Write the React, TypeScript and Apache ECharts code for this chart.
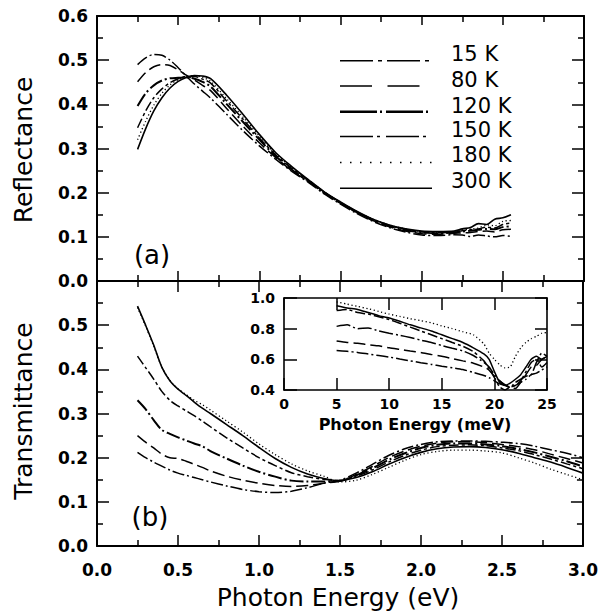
import React, { useEffect, useRef } from 'react';
import * as echarts from 'echarts';

const FONT = "'DejaVu Sans', sans-serif";

const TEMPS = ['15 K', '80 K', '120 K', '150 K', '180 K', '300 K'];

// Panel (a): reflectance vs photon energy (eV)
const E_R = [0.25, 0.3, 0.35, 0.4, 0.45, 0.5, 0.55, 0.6, 0.65, 0.7, 0.8, 0.9, 1.0, 1.1, 1.2, 1.3, 1.4, 1.5, 1.6, 1.7, 1.8, 1.9, 2.0, 2.1, 2.2, 2.25, 2.3, 2.35, 2.4, 2.45, 2.5, 2.55];
const R_15K = [0.490, 0.505, 0.513, 0.511, 0.500, 0.483, 0.464, 0.446, 0.430, 0.414, 0.377, 0.340, 0.306, 0.276, 0.248, 0.224, 0.197, 0.174, 0.153, 0.135, 0.121, 0.111, 0.104, 0.103, 0.105, 0.104, 0.101, 0.104, 0.102, 0.100, 0.103, 0.101];
const R_80K = [0.451, 0.472, 0.485, 0.490, 0.488, 0.478, 0.466, 0.455, 0.443, 0.431, 0.390, 0.350, 0.313, 0.280, 0.250, 0.226, 0.199, 0.176, 0.155, 0.137, 0.123, 0.113, 0.107, 0.106, 0.108, 0.109, 0.110, 0.112, 0.113, 0.111, 0.116, 0.117];
const R_120K = [0.396, 0.425, 0.443, 0.454, 0.459, 0.460, 0.461, 0.458, 0.451, 0.440, 0.400, 0.360, 0.320, 0.283, 0.252, 0.227, 0.200, 0.177, 0.156, 0.138, 0.125, 0.115, 0.110, 0.108, 0.110, 0.112, 0.114, 0.116, 0.118, 0.117, 0.122, 0.124];
const R_150K = [0.347, 0.385, 0.415, 0.435, 0.449, 0.458, 0.463, 0.463, 0.457, 0.448, 0.407, 0.366, 0.324, 0.286, 0.255, 0.229, 0.201, 0.178, 0.157, 0.139, 0.126, 0.117, 0.111, 0.109, 0.111, 0.114, 0.116, 0.118, 0.122, 0.120, 0.128, 0.131];
const R_180K = [0.320, 0.362, 0.398, 0.425, 0.444, 0.456, 0.463, 0.465, 0.461, 0.452, 0.412, 0.371, 0.328, 0.288, 0.257, 0.229, 0.202, 0.178, 0.157, 0.140, 0.127, 0.118, 0.112, 0.110, 0.112, 0.116, 0.118, 0.120, 0.127, 0.125, 0.135, 0.137];
const R_300K = [0.298, 0.345, 0.385, 0.415, 0.437, 0.452, 0.461, 0.465, 0.464, 0.458, 0.420, 0.377, 0.332, 0.291, 0.259, 0.230, 0.202, 0.179, 0.158, 0.140, 0.127, 0.118, 0.113, 0.112, 0.113, 0.118, 0.121, 0.130, 0.128, 0.140, 0.143, 0.150];

// Panel (b): transmittance vs photon energy (eV)
const E_T = [0.25, 0.3, 0.35, 0.4, 0.45, 0.5, 0.55, 0.6, 0.65, 0.7, 0.8, 0.9, 1.0, 1.1, 1.2, 1.3, 1.4, 1.5, 1.6, 1.7, 1.8, 1.9, 2.0, 2.1, 2.2, 2.3, 2.4, 2.5, 2.6, 2.7, 2.8, 2.9, 3.0];
const T_15K = [0.212, 0.200, 0.190, 0.181, 0.172, 0.165, 0.160, 0.155, 0.150, 0.145, 0.136, 0.128, 0.123, 0.121, 0.124, 0.132, 0.142, 0.149, 0.165, 0.185, 0.205, 0.220, 0.230, 0.236, 0.238, 0.238, 0.237, 0.235, 0.232, 0.226, 0.218, 0.210, 0.200];
const T_80K = [0.250, 0.235, 0.222, 0.208, 0.200, 0.198, 0.192, 0.185, 0.178, 0.170, 0.158, 0.149, 0.142, 0.137, 0.135, 0.137, 0.142, 0.147, 0.162, 0.180, 0.200, 0.215, 0.226, 0.233, 0.236, 0.236, 0.234, 0.230, 0.225, 0.218, 0.208, 0.198, 0.188];
const T_120K = [0.330, 0.310, 0.285, 0.263, 0.254, 0.246, 0.239, 0.232, 0.226, 0.215, 0.198, 0.182, 0.168, 0.157, 0.148, 0.146, 0.146, 0.147, 0.160, 0.176, 0.195, 0.210, 0.222, 0.229, 0.232, 0.232, 0.230, 0.226, 0.220, 0.212, 0.202, 0.192, 0.180];
const T_150K = [0.430, 0.404, 0.378, 0.350, 0.330, 0.317, 0.306, 0.295, 0.283, 0.270, 0.245, 0.222, 0.200, 0.182, 0.166, 0.157, 0.151, 0.148, 0.158, 0.172, 0.190, 0.205, 0.217, 0.225, 0.228, 0.229, 0.227, 0.222, 0.216, 0.207, 0.197, 0.186, 0.175];
const T_180K = [0.540, 0.498, 0.453, 0.405, 0.375, 0.356, 0.343, 0.330, 0.320, 0.308, 0.283, 0.258, 0.231, 0.207, 0.186, 0.170, 0.158, 0.145, 0.149, 0.162, 0.178, 0.194, 0.207, 0.214, 0.217, 0.217, 0.215, 0.211, 0.200, 0.188, 0.174, 0.162, 0.150];
const T_300K = [0.543, 0.500, 0.455, 0.405, 0.374, 0.355, 0.341, 0.326, 0.312, 0.300, 0.275, 0.250, 0.223, 0.198, 0.178, 0.163, 0.153, 0.148, 0.155, 0.168, 0.185, 0.200, 0.212, 0.220, 0.224, 0.225, 0.223, 0.218, 0.210, 0.200, 0.190, 0.178, 0.165];

// Inset: transmittance vs photon energy (meV)
const E_M = [5, 6, 7, 8, 9, 10, 11, 12, 13, 14, 15, 16, 17, 18, 19, 19.5, 20, 20.5, 21, 21.5, 22, 22.5, 23, 23.5, 24, 24.5, 25];
const I_15K = [0.658, 0.652, 0.645, 0.635, 0.625, 0.615, 0.602, 0.590, 0.578, 0.567, 0.555, 0.545, 0.533, 0.515, 0.495, 0.480, 0.460, 0.440, 0.430, 0.420, 0.430, 0.450, 0.470, 0.500, 0.510, 0.530, 0.550];
const I_80K = [0.720, 0.710, 0.705, 0.695, 0.688, 0.675, 0.665, 0.655, 0.645, 0.632, 0.620, 0.605, 0.590, 0.575, 0.550, 0.530, 0.490, 0.460, 0.435, 0.415, 0.410, 0.450, 0.500, 0.550, 0.560, 0.600, 0.620];
const I_120K = [0.815, 0.825, 0.800, 0.805, 0.785, 0.770, 0.757, 0.742, 0.725, 0.710, 0.690, 0.672, 0.655, 0.625, 0.580, 0.550, 0.500, 0.460, 0.430, 0.420, 0.450, 0.470, 0.490, 0.500, 0.580, 0.640, 0.620];
const I_150K = [0.918, 0.925, 0.905, 0.895, 0.878, 0.860, 0.835, 0.810, 0.785, 0.760, 0.735, 0.710, 0.685, 0.650, 0.590, 0.540, 0.480, 0.420, 0.400, 0.420, 0.430, 0.460, 0.520, 0.580, 0.600, 0.550, 0.580];
const I_180K = [0.975, 0.960, 0.945, 0.930, 0.912, 0.895, 0.880, 0.865, 0.852, 0.838, 0.818, 0.800, 0.780, 0.760, 0.700, 0.640, 0.600, 0.565, 0.545, 0.550, 0.620, 0.675, 0.710, 0.735, 0.750, 0.770, 0.775];
const I_300K = [0.950, 0.935, 0.925, 0.905, 0.885, 0.870, 0.848, 0.825, 0.805, 0.785, 0.760, 0.735, 0.710, 0.675, 0.635, 0.600, 0.520, 0.450, 0.430, 0.445, 0.470, 0.500, 0.550, 0.600, 0.620, 0.600, 0.620];

const R_ALL = [R_15K, R_80K, R_120K, R_150K, R_180K, R_300K];
const T_ALL = [T_15K, T_80K, T_120K, T_150K, T_180K, T_300K];
const I_ALL = [I_15K, I_80K, I_120K, I_150K, I_180K, I_300K];

// line styles per temperature
const STYLES: { dash: any; w: number; ldash: any; lw: number }[] = [
  { dash: [12, 3, 2, 3], w: 1.5, ldash: [33, 5, 4, 5], lw: 1.6 },
  { dash: [12, 5], w: 1.5, ldash: [32, 15.5], lw: 1.6 },
  { dash: [14, 3, 2, 3], w: 2, ldash: [37, 3, 2, 4], lw: 2.6 },
  { dash: [10, 3, 3, 3], w: 1.5, ldash: [33, 4, 3, 6], lw: 1.6 },
  { dash: [1.2, 2.6], w: 1.3, ldash: [1.5, 8.5], lw: 1.5 },
  { dash: 'solid', w: 1.6, ldash: null, lw: 1.6 },
];

const BLACK = '#000';

function axisCommon(tickLen: number, minorLen: number, lineW = 2) {
  return {
    axisLine: { show: true, onZero: false, lineStyle: { color: BLACK, width: lineW } },
    axisTick: { show: true, inside: true, length: tickLen, lineStyle: { color: BLACK, width: 1.5 } },
    minorTick: minorLen > 0
      ? { show: true, splitNumber: 2, length: minorLen, lineStyle: { color: BLACK, width: 1.5 } }
      : { show: false },
    splitLine: { show: false },
    minorSplitLine: { show: false },
  };
}

const tickFont = { fontFamily: FONT, fontWeight: 'bold' as const, color: BLACK };

function buildOption() {
  const xAxis: any[] = [];
  const yAxis: any[] = [];

  // Grid 0 (Reflectance)
  xAxis.push({ type: 'value', gridIndex: 0, position: 'bottom', min: 0, max: 3, interval: 0.5, ...axisCommon(10, 6), axisLabel: { show: false } });
  xAxis.push({ type: 'value', gridIndex: 0, position: 'top', min: 0, max: 3, interval: 0.5, ...axisCommon(9, 6), axisLabel: { show: false } });
  yAxis.push({
    type: 'value', gridIndex: 0, position: 'left', min: 0, max: 0.6, interval: 0.1, ...axisCommon(12, 6),
    axisLabel: { show: true, margin: 9, fontSize: 17, ...tickFont, formatter: (v: number) => v.toFixed(1) },
  });
  yAxis.push({ type: 'value', gridIndex: 0, position: 'right', min: 0, max: 0.6, interval: 0.1, ...axisCommon(12, 6), axisLabel: { show: false } });

  // Grid 1 (Transmittance)
  xAxis.push({
    type: 'value', gridIndex: 1, position: 'bottom', min: 0, max: 3, interval: 0.5, ...axisCommon(11, 6),
    axisLabel: { show: true, margin: 15, fontSize: 17, ...tickFont, formatter: (v: number) => v.toFixed(1) },
  });
  xAxis.push({ type: 'value', gridIndex: 1, position: 'top', min: 0, max: 3, interval: 0.5, ...axisCommon(11, 6), axisLabel: { show: false } });
  yAxis.push({
    type: 'value', gridIndex: 1, position: 'left', min: 0, max: 0.6, interval: 0.1, ...axisCommon(12, 6),
    axisLabel: { show: true, margin: 9, fontSize: 17, ...tickFont, formatter: (v: number) => (v > 0.55 ? '' : v.toFixed(1)) },
  });
  yAxis.push({ type: 'value', gridIndex: 1, position: 'right', min: 0, max: 0.6, interval: 0.1, ...axisCommon(12, 6), axisLabel: { show: false } });

  // Grid 2 (Inset)
  xAxis.push({
    type: 'value', gridIndex: 2, position: 'bottom', min: 0, max: 25, interval: 5, ...axisCommon(12, 0, 1.6),
    axisLabel: { show: true, margin: 7, fontSize: 14, lineHeight: 14, ...tickFont, formatter: (v: number) => String(v) },
  });
  xAxis.push({ type: 'value', gridIndex: 2, position: 'top', min: 0, max: 25, interval: 5, ...axisCommon(12, 0, 1.6), axisLabel: { show: false } });
  yAxis.push({
    type: 'value', gridIndex: 2, position: 'left', min: 0.4, max: 1.0, interval: 0.2, ...axisCommon(13, 0, 1.6),
    axisLabel: { show: true, margin: 9, fontSize: 14, ...tickFont, formatter: (v: number) => v.toFixed(1) },
  });
  yAxis.push({ type: 'value', gridIndex: 2, position: 'right', min: 0.4, max: 1.0, interval: 0.2, ...axisCommon(12, 0, 1.6), axisLabel: { show: false } });

  const series: any[] = [];
  TEMPS.forEach((t, i) => {
    const st = STYLES[i];
    const ls = { color: BLACK, width: st.w, type: st.dash };
    series.push({
      name: t + ' R', type: 'line', xAxisIndex: 0, yAxisIndex: 0, symbol: 'none', smooth: 0.3, clip: true,
      lineStyle: ls, data: E_R.map((e, k) => [e, R_ALL[i][k]]),
    });
    series.push({
      name: t + ' T', type: 'line', xAxisIndex: 2, yAxisIndex: 2, symbol: 'none', smooth: 0.3, clip: true,
      lineStyle: ls, data: E_T.map((e, k) => [e, T_ALL[i][k]]),
    });
    series.push({
      name: t + ' inset', type: 'line', xAxisIndex: 4, yAxisIndex: 4, symbol: 'none', smooth: 0.2, clip: true,
      lineStyle: { ...ls, width: Math.min(st.w, 1.5) }, data: E_M.map((e, k) => [e, I_ALL[i][k]]),
    });
  });

  // legend + titles as graphic
  const graphic: any[] = [];
  const legendLineY = [60.7, 86, 111.7, 136.5, 162.5, 188.3];
  const legendTextY = [54, 80, 105.5, 130, 155, 180.5];
  TEMPS.forEach((t, i) => {
    const st = STYLES[i];
    graphic.push({
      type: 'line', shape: { x1: 340, y1: legendLineY[i], x2: 432, y2: legendLineY[i] },
      style: { stroke: BLACK, lineWidth: st.lw, lineDash: st.ldash || undefined },
    });
    graphic.push({
      type: 'text', x: 451, y: legendTextY[i],
      style: { text: t, fontSize: 21, fontFamily: FONT, fill: BLACK, align: 'left', verticalAlign: 'middle' },
    });
  });
  graphic.push({ type: 'text', x: 152, y: 255, style: { text: '(a)', fontSize: 26, fontFamily: FONT, fill: BLACK, align: 'center', verticalAlign: 'middle' } });
  graphic.push({ type: 'text', x: 150, y: 517, style: { text: '(b)', fontSize: 26, fontFamily: FONT, fill: BLACK, align: 'center', verticalAlign: 'middle' } });
  graphic.push({ type: 'text', x: 338, y: 597, style: { text: 'Photon Energy (eV)', fontSize: 25, fontFamily: FONT, fill: BLACK, align: 'center', verticalAlign: 'middle' } });
  graphic.push({ type: 'text', x: 23, y: 150, rotation: Math.PI / 2, style: { text: 'Reflectance', fontSize: 25, fontFamily: FONT, fill: BLACK, align: 'center', verticalAlign: 'middle' } });
  graphic.push({ type: 'text', x: 23, y: 411, rotation: Math.PI / 2, style: { text: 'Transmittance', fontSize: 25, fontFamily: FONT, fill: BLACK, align: 'center', verticalAlign: 'middle' } });
  graphic.push({ type: 'text', x: 415, y: 424, style: { text: 'Photon Energy (meV)', fontSize: 16, fontWeight: 'bold', fontFamily: FONT, fill: BLACK, align: 'center', verticalAlign: 'middle' } });

  return {
    animation: false,
    backgroundColor: '#fff',
    grid: [
      { left: 97, top: 16, width: 487, height: 265 },
      { left: 97, top: 281, width: 487, height: 265 },
      { left: 284, top: 298, width: 263, height: 92, backgroundColor: '#fff', show: true, borderWidth: 0 },
    ],
    xAxis,
    yAxis,
    series,
    graphic,
  };
}

export default function App() {
  const ref = useRef<HTMLDivElement>(null);
  useEffect(() => {
    document.body.style.margin = '0';
    const chart = echarts.init(ref.current!, null, { renderer: 'svg' });
    chart.setOption(buildOption() as any);
    return () => chart.dispose();
  }, []);
  return <div ref={ref} style={{ width: 601, height: 611 }} />;
}
